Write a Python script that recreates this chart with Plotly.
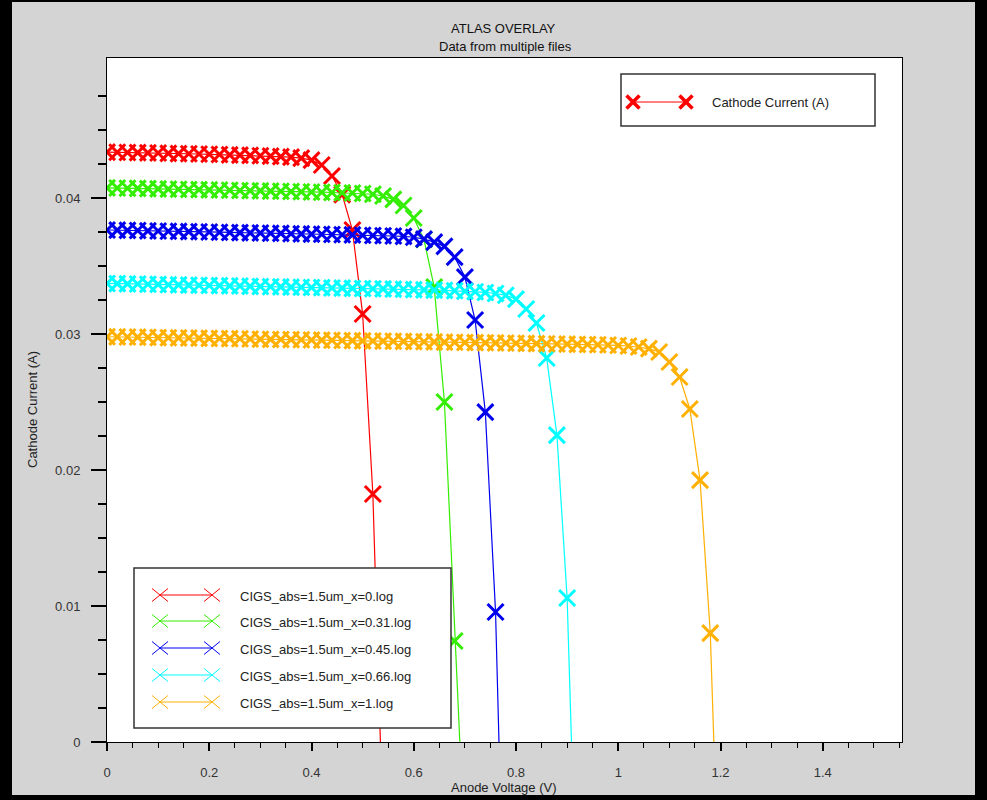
import plotly.graph_objects as go

# ---------------- data ----------------
voltage = [0.00, 0.02, 0.04, 0.06, 0.08, 0.10, 0.12, 0.14, 0.16, 0.18,
           0.20, 0.22, 0.24, 0.26, 0.28, 0.30, 0.32, 0.34, 0.36, 0.38,
           0.40, 0.42, 0.44, 0.46, 0.48, 0.50, 0.52, 0.54, 0.56, 0.58,
           0.60, 0.62, 0.64, 0.66, 0.68, 0.70, 0.72, 0.74, 0.76, 0.78,
           0.80, 0.82, 0.84, 0.86, 0.88, 0.90, 0.92, 0.94, 0.96, 0.98,
           1.00, 1.02, 1.04, 1.06, 1.08, 1.10, 1.12, 1.14, 1.16, 1.18,
           1.20]

series_names = ["CIGS_abs=1.5um_x=0.log", "CIGS_abs=1.5um_x=0.31.log",
                "CIGS_abs=1.5um_x=0.45.log", "CIGS_abs=1.5um_x=0.66.log",
                "CIGS_abs=1.5um_x=1.log"]

current_x0 = [0.04338, 0.04337, 0.04335, 0.04334, 0.04332, 0.04331, 0.04329, 0.04327,
              0.04326, 0.04324, 0.04322, 0.04320, 0.04318, 0.04316, 0.04314, 0.04311,
              0.04308, 0.04305, 0.04301, 0.04294, 0.04279, 0.04243, 0.04162, 0.04025,
              0.03765, 0.03147, 0.01824, -0.00640]

current_x031 = [0.04075, 0.04074, 0.04072, 0.04071, 0.04069, 0.04068, 0.04066, 0.04065,
                0.04063, 0.04062, 0.04060, 0.04059, 0.04057, 0.04056, 0.04054, 0.04053,
                0.04051, 0.04050, 0.04048, 0.04046, 0.04045, 0.04043, 0.04041, 0.04039,
                0.04037, 0.04034, 0.04028, 0.04015, 0.03990, 0.03945, 0.03853, 0.03695,
                0.03345, 0.02500, 0.00743, -0.00820]

current_x045 = [0.03765, 0.03764, 0.03762, 0.03761, 0.03759, 0.03758, 0.03756, 0.03755,
                0.03753, 0.03752, 0.03750, 0.03749, 0.03747, 0.03746, 0.03744, 0.03743,
                0.03741, 0.03740, 0.03738, 0.03737, 0.03735, 0.03734, 0.03732, 0.03730,
                0.03729, 0.03727, 0.03725, 0.03723, 0.03721, 0.03718, 0.03712, 0.03698,
                0.03676, 0.03645, 0.03566, 0.03419, 0.03103, 0.02426, 0.00956, -0.01900]

current_x066 = [0.03372, 0.03371, 0.03369, 0.03368, 0.03366, 0.03365, 0.03363, 0.03362,
                0.03360, 0.03359, 0.03357, 0.03356, 0.03354, 0.03353, 0.03351, 0.03350,
                0.03348, 0.03347, 0.03345, 0.03344, 0.03342, 0.03341, 0.03339, 0.03338,
                0.03336, 0.03335, 0.03333, 0.03332, 0.03330, 0.03329, 0.03327, 0.03325,
                0.03323, 0.03321, 0.03318, 0.03315, 0.03311, 0.03306, 0.03298, 0.03285,
                0.03257, 0.03184, 0.03081, 0.02824, 0.02257, 0.01059, -0.01430]

current_x1 = [0.02980, 0.02979, 0.02978, 0.02977, 0.02976, 0.02974, 0.02973, 0.02972,
              0.02971, 0.02970, 0.02968, 0.02967, 0.02966, 0.02965, 0.02964, 0.02962,
              0.02961, 0.02960, 0.02959, 0.02958, 0.02956, 0.02955, 0.02954, 0.02953,
              0.02952, 0.02950, 0.02949, 0.02948, 0.02947, 0.02946, 0.02944, 0.02943,
              0.02942, 0.02941, 0.02940, 0.02938, 0.02937, 0.02936, 0.02935, 0.02934,
              0.02932, 0.02931, 0.02930, 0.02929, 0.02927, 0.02926, 0.02924, 0.02923,
              0.02921, 0.02919, 0.02916, 0.02912, 0.02905, 0.02893, 0.02868, 0.02794,
              0.02684, 0.02449, 0.01926, 0.00801, -0.01490]

series_currents = [current_x0, current_x031, current_x045, current_x066, current_x1]
series_colors = ["#ff0000", "#33ee00", "#0000ee", "#00ffff", "#ffb000"]

x_tick_vals = [0, 0.2, 0.4, 0.6, 0.8, 1.0, 1.2, 1.4]
x_tick_text = ["0", "0.2", "0.4", "0.6", "0.8", "1", "1.2", "1.4"]
y_tick_vals = [0, 0.01, 0.02, 0.03, 0.04]
y_tick_text = ["0", "0.01", "0.02", "0.03", "0.04"]

# ---------------- layout geometry (pixels) ----------------
W, H = 987, 800
L, R, T, B = 107, 902, 58, 742
PW, PH = R - L, B - T


def px(xp):
    return (xp - L) / PW


def py(yp):
    return (B - yp) / PH


FONT = "Liberation Sans, Arial, sans-serif"

fig = go.Figure()
for name, cur, col in zip(series_names, series_currents, series_colors):
    fig.add_trace(go.Scatter(
        x=voltage[:len(cur)], y=cur, name=name, mode="lines+markers",
        line=dict(color=col, width=1.2),
        marker=dict(symbol="x-thin", size=16, color=col,
                    line=dict(color=col, width=3)),
        showlegend=False,
    ))

shapes = []
# outer dark frame
for (x0, y0, x1, y1) in [(0, 0, 12, H), (975, 0, W, H), (0, 795, W, H), (0, 0, W, 2)]:
    shapes.append(dict(type="rect", xref="paper", yref="paper",
                       x0=px(x0), x1=px(x1), y0=py(y1), y1=py(y0),
                       fillcolor="black", line=dict(width=0), layer="above"))


def xmark(cx, cy, hw, hh, col, w):
    return [dict(type="line", xref="paper", yref="paper",
                 x0=px(cx - hw), y0=py(cy - hh), x1=px(cx + hw), y1=py(cy + hh),
                 line=dict(color=col, width=w), layer="above"),
            dict(type="line", xref="paper", yref="paper",
                 x0=px(cx - hw), y0=py(cy + hh), x1=px(cx + hw), y1=py(cy - hh),
                 line=dict(color=col, width=w), layer="above")]


annotations = []

# top-right legend box
shapes.append(dict(type="rect", xref="paper", yref="paper",
                   x0=px(621), x1=px(875), y0=py(126), y1=py(74),
                   fillcolor="white", line=dict(color="#333", width=1.5), layer="above"))
shapes.append(dict(type="line", xref="paper", yref="paper",
                   x0=px(633), x1=px(686), y0=py(102), y1=py(102),
                   line=dict(color="#ff0000", width=1), layer="above"))
shapes += xmark(633, 102, 6.5, 6.5, "#ff0000", 3.5)
shapes += xmark(686, 102, 6.5, 6.5, "#ff0000", 3.5)
annotations.append(dict(xref="paper", yref="paper", x=px(710), y=py(103),
                        xanchor="left", yanchor="middle", showarrow=False,
                        text="Cathode Current (A)",
                        font=dict(family=FONT, size=13, color="#222")))

# bottom-left legend box
shapes.append(dict(type="rect", xref="paper", yref="paper",
                   x0=px(134), x1=px(451), y0=py(728), y1=py(568),
                   fillcolor="white", line=dict(color="#333", width=1.5), layer="above"))
leg_y = [595, 621, 648, 675, 702]
for name, col, yy in zip(series_names, series_colors, leg_y):
    shapes.append(dict(type="line", xref="paper", yref="paper",
                       x0=px(160), x1=px(212), y0=py(yy), y1=py(yy),
                       line=dict(color=col, width=1), layer="above"))
    shapes += xmark(160, yy, 8, 6.5, col, 1)
    shapes += xmark(212, yy, 8, 6.5, col, 1)
    annotations.append(dict(xref="paper", yref="paper", x=px(238), y=py(yy + 1),
                            xanchor="left", yanchor="middle", showarrow=False,
                            text=name, font=dict(family=FONT, size=13, color="#222")))

# titles
annotations.append(dict(xref="paper", yref="paper", x=px(503), y=py(28),
                        xanchor="center", yanchor="middle", showarrow=False,
                        text="ATLAS OVERLAY", font=dict(family=FONT, size=13, color="#111")))
annotations.append(dict(xref="paper", yref="paper", x=px(505), y=py(47),
                        xanchor="center", yanchor="middle", showarrow=False,
                        text="Data from multiple files", font=dict(family=FONT, size=13, color="#111")))
annotations.append(dict(xref="paper", yref="paper", x=px(504), y=py(787),
                        xanchor="center", yanchor="middle", showarrow=False,
                        text="Anode Voltage (V)", font=dict(family=FONT, size=13, color="#222")))
annotations.append(dict(xref="paper", yref="paper", x=px(32), y=py(410),
                        xanchor="center", yanchor="middle", showarrow=False, textangle=-90,
                        text="Cathode Current (A)", font=dict(family=FONT, size=13, color="#222")))

fig.update_layout(
    width=W, height=H,
    margin=dict(l=L, r=W - R, t=T, b=H - B, pad=0),
    paper_bgcolor="#d4d4d4", plot_bgcolor="white",
    showlegend=False,
    font=dict(family=FONT, size=13, color="#333"),
    shapes=shapes, annotations=annotations,
    xaxis=dict(range=[0, 1.555], tickvals=x_tick_vals, ticktext=x_tick_text,
               ticks="outside", ticklen=8, tickwidth=2, tickcolor="black",
               minor=dict(dtick=0.05, tick0=0, ticks="outside", ticklen=5,
                          tickwidth=1, tickcolor="black", showgrid=False),
               showgrid=False, zeroline=False, showline=True, linecolor="black",
               linewidth=1, mirror=True, ticklabelstandoff=10,
               tickfont=dict(family=FONT, size=13, color="#333")),
    yaxis=dict(range=[0, 0.0503], tickvals=y_tick_vals, ticktext=y_tick_text,
               ticks="outside", ticklen=15, tickwidth=2, tickcolor="black",
               minor=dict(tickvals=[0.0025, 0.005, 0.0075, 0.0125, 0.015, 0.0175,
                                    0.0225, 0.025, 0.0275, 0.0325, 0.035, 0.0375,
                                    0.0425, 0.045, 0.0475],
                          ticks="outside", ticklen=8, tickwidth=1.5,
                          tickcolor="black", showgrid=False),
               showgrid=False, zeroline=False, showline=True, linecolor="black",
               linewidth=1, mirror=True, ticklabelstandoff=8,
               tickfont=dict(family=FONT, size=13, color="#333")),
)

fig.write_html("out.html")
